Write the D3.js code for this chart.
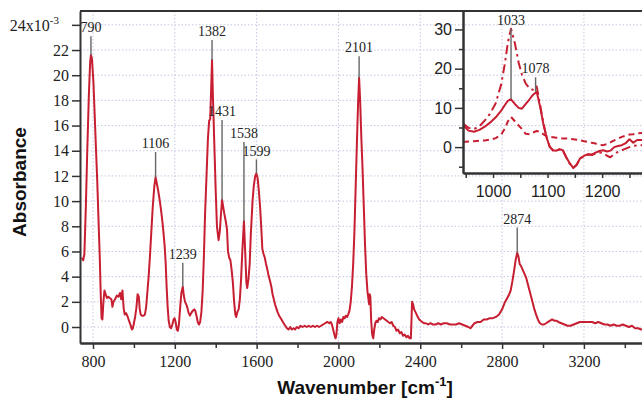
<!DOCTYPE html>
<html>
<head>
<meta charset="utf-8">
<script src="https://cdn.jsdelivr.net/npm/d3@7"></script>
<style>
  body { margin: 0; background: #fff; }
  svg { display: block; }
</style>
</head>
<body>
<svg width="642" height="398"></svg>
<script>
const svg = d3.select("svg");
const width = +svg.attr("width");
const height = +svg.attr("height");

const red = "#c81e32";
const axisColor = "#333";
const gridColor = "#c6c6e2";

// Main spectrum (absorbance in units of 10^-3)
const wavenumbers = [
  746, 752, 758, 765, 772, 780, 786, 790, 795, 802, 808, 815, 821, 827, 833, 838, 842, 846, 851, 856,
  862, 868, 875, 882, 890, 895, 900, 908, 916, 924, 932, 938, 944, 950, 955, 962, 970, 978, 985, 990,
  995, 1000, 1006, 1012, 1018, 1024, 1028, 1033, 1040, 1047, 1054, 1060, 1066, 1072, 1078, 1085, 1092, 1100, 1106, 1112,
  1118, 1125, 1131, 1137, 1143, 1150, 1155, 1160, 1165, 1170, 1176, 1182, 1188, 1194, 1199, 1204, 1210, 1215, 1220, 1226,
  1232, 1239, 1244, 1250, 1256, 1262, 1268, 1274, 1280, 1288, 1295, 1300, 1306, 1312, 1318, 1324, 1330, 1336, 1342, 1348,
  1355, 1362, 1368, 1373, 1377, 1382, 1386, 1390, 1395, 1400, 1406, 1414, 1420, 1425, 1431, 1436, 1442, 1448, 1455, 1460,
  1466, 1472, 1478, 1484, 1490, 1496, 1500, 1506, 1512, 1518, 1524, 1530, 1538, 1544, 1550, 1554, 1560, 1566, 1572, 1580,
  1586, 1593, 1599, 1605, 1611, 1617, 1623, 1628, 1634, 1640, 1646, 1652, 1658, 1665, 1672, 1678, 1684, 1690, 1696, 1702,
  1710, 1718, 1725, 1732, 1740, 1748, 1756, 1764, 1772, 1780, 1788, 1796, 1805, 1815, 1825, 1835, 1845, 1855, 1865, 1875,
  1885, 1895, 1905, 1915, 1925, 1935, 1945, 1955, 1962, 1968, 1974, 1980, 1986, 1990, 1995, 2000, 2006, 2012, 2018, 2024,
  2030, 2036, 2042, 2048, 2054, 2060, 2066, 2072, 2078, 2084, 2090, 2096, 2101, 2106, 2112, 2118, 2124, 2130, 2136, 2142,
  2146, 2150, 2153, 2156, 2160, 2165, 2170, 2175, 2180, 2186, 2192, 2198, 2205, 2212, 2220, 2228, 2236, 2244, 2252, 2260,
  2268, 2276, 2284, 2292, 2300, 2308, 2316, 2324, 2332, 2340, 2348, 2354, 2357, 2360, 2365, 2370, 2376, 2382, 2388, 2395,
  2402, 2410, 2418, 2428, 2438, 2450, 2462, 2475, 2488, 2500, 2515, 2530, 2545, 2560, 2575, 2590, 2605, 2620, 2635, 2645,
  2655, 2665, 2680, 2695, 2710, 2725, 2740, 2755, 2770, 2785, 2800, 2812, 2822, 2832, 2842, 2850, 2858, 2866, 2874, 2880,
  2886, 2894, 2902, 2910, 2918, 2926, 2934, 2942, 2950, 2958, 2966, 2975, 2985, 2995, 3005, 3015, 3025, 3035, 3045, 3055,
  3065, 3075, 3090, 3105, 3120, 3135, 3150, 3165, 3180, 3195, 3210, 3225, 3240, 3255, 3270, 3285, 3300, 3315, 3330, 3345,
  3360, 3375, 3390, 3405, 3420, 3435, 3450, 3465, 3480, 3495
];
const absorbance = [
  5.5, 5.3, 5.8, 9.5, 14.0, 18.5, 21.0, 21.6, 21.3, 19.5, 17.0, 14.0, 11.5, 8.5, 5.6, 2.5, 0.7, 0.6, 2.0, 2.9,
  2.6, 2.3, 2.4, 2.3, 2.2, 1.6, 2.0, 2.2, 2.5, 2.4, 2.7, 2.2, 2.9, 1.5, 1.0, 1.1, 0.8, 0.4, 0.1, -0.2,
  -0.1, 0.3, 0.8, 1.5, 2.6, 2.4, 1.5, 1.0, 0.9, 0.9, 1.0, 1.6, 2.8, 4.0, 5.5, 7.5, 9.5, 11.2, 11.9, 11.4,
  10.9, 10.2, 9.5, 8.7, 7.8, 6.5, 5.2, 3.2, 1.6, 0.5, 0.0, -0.1, 0.2, 0.6, 0.7, 0.4, -0.2, -0.3, 0.2, 1.5,
  2.7, 3.2, 2.5, 2.0, 1.8, 1.5, 1.1, 0.9, 1.1, 1.3, 1.4, 1.3, 0.9, 0.4, 0.2, 0.4, 1.2, 2.8, 5.5, 9.0,
  12.0, 15.0, 16.4, 16.5, 18.5, 21.2, 18.5, 16.3, 13.5, 10.8, 8.0, 6.9, 7.6, 8.8, 10.1, 9.6, 9.0, 8.5, 7.8, 6.0,
  5.5, 5.3, 4.5, 3.5, 2.0, 1.0, 0.8, 1.2, 1.4, 2.2, 3.8, 6.0, 8.4, 6.0, 3.5, 3.1, 3.8, 5.0, 7.5, 10.0,
  11.2, 12.0, 12.2, 11.8, 10.8, 9.5, 7.8, 6.2, 5.8, 5.5, 5.0, 4.6, 4.1, 3.7, 3.2, 2.6, 2.2, 1.8, 1.5, 1.2,
  0.9, 0.7, 0.5, 0.3, 0.1, -0.1, -0.2, 0.0, -0.2, -0.1, -0.2, 0.0, -0.1, 0.1, 0.0, 0.1, 0.0, 0.1, 0.0, 0.1,
  0.0, 0.1, 0.0, 0.1, 0.2, 0.3, 0.4, 0.3, 0.4, 0.2, -0.2, -0.6, -0.9, -0.6, 0.4, 0.7, 0.3, 0.6, 0.4, 0.8,
  0.7, 0.9, 0.8, 1.0, 1.3, 2.0, 3.2, 5.0, 7.5, 11.0, 14.5, 17.8, 19.8, 18.0, 15.0, 12.5, 9.5, 6.5, 4.2, 2.8,
  2.3, 1.8, 2.6, 2.4, 0.5, -0.6, -0.9, -0.2, 0.3, 0.5, 0.4, 0.7, 0.6, 0.8, 0.7, 0.6, 0.5, 0.4, 0.3, 0.4,
  0.1, 0.0, -0.3, -0.2, -0.5, -0.4, -0.7, -0.6, -0.8, -0.7, -0.9, -0.9, 0.5, 2.0, 1.8, 1.4, 1.2, 1.0, 0.8, 0.6,
  0.5, 0.4, 0.3, 0.3, 0.2, 0.3, 0.2, 0.2, 0.3, 0.2, 0.3, 0.3, 0.2, 0.2, 0.2, 0.3, 0.2, 0.1, 0.0, -0.1,
  0.1, 0.3, 0.4, 0.4, 0.6, 0.6, 0.7, 0.7, 0.8, 1.0, 1.4, 1.9, 2.2, 2.5, 2.9, 3.6, 4.4, 5.3, 5.9, 5.6,
  5.0, 4.8, 4.5, 4.2, 3.9, 3.4, 2.9, 2.4, 1.9, 1.4, 1.0, 0.6, 0.3, 0.2, 0.2, 0.3, 0.4, 0.5, 0.6, 0.5,
  0.5, 0.4, 0.3, 0.2, 0.1, 0.1, 0.2, 0.3, 0.4, 0.4, 0.4, 0.4, 0.4, 0.3, 0.4, 0.3, 0.2, 0.2, 0.1, 0.2,
  0.1, 0.1, 0.2, 0.1, 0.0, 0.1, -0.1, -0.1, -0.2, -0.2
];

// Peak annotations: position, peak value, top of the leader line
const peakPositions = [790, 1106, 1239, 1382, 1431, 1538, 1599, 2101, 2874];
const peakValues = [21.6, 11.9, 3.2, 21.2, 10.1, 8.4, 12.2, 19.8, 5.9];
const leaderTops = [23.1, 13.9, 5.1, 22.8, 16.45, 14.7, 13.3, 21.5, 7.9];

const xTicks = [800, 1200, 1600, 2000, 2400, 2800, 3200];
const xMinorTicks = [1000, 1400, 1800, 2200, 2600, 3000, 3400];
const yTicks = [0, 2, 4, 6, 8, 10, 12, 14, 16, 18, 20, 22, 24];

// Inset: three spectra around 1000-1270 cm-1
const insetWavenumbers = [
  945, 955, 965, 975, 985, 995, 1005, 1015, 1022, 1027, 1033, 1040, 1047, 1053, 1060, 1067, 1073, 1080, 1086, 1092,
  1098, 1104, 1110, 1116, 1122, 1128, 1134, 1140, 1147, 1153, 1160, 1167, 1174, 1181, 1188, 1195, 1202, 1209, 1215, 1222,
  1229, 1236, 1243, 1250, 1257, 1264, 1273
];
const insetSolid = [
  5.6, 4.2, 3.9, 4.4, 5.2, 6.3, 7.6, 9.3, 10.8, 11.8, 12.2, 11.0, 10.0, 9.8, 11.0, 12.2, 13.3, 14.1, 10.5, 6.1,
  2.5, 0.0, -0.8, -0.9, -0.5, -0.8, -2.5, -4.0, -5.3, -4.5, -2.8, -2.2, -1.8, -1.9, -1.4, -1.0, -0.8, -1.1, -0.9, 0.0,
  0.3, 0.5, 1.0, 2.0, 1.1, 1.8, 1.8
];
const insetDashDot = [
  6.0, 4.9, 4.6, 5.3, 6.8, 8.6, 11.2, 16.0, 21.5, 26.5, 30.2, 26.5, 21.5, 18.5, 16.2, 15.0, 14.6, 15.5, 11.0, 6.3,
  2.6, 0.1, -0.9, -0.9, -0.6, -0.9, -2.6, -4.1, -5.3, -4.6, -2.9, -2.3, -1.9, -2.0, -1.6, -1.4, -1.5, -2.2, -2.6, -1.8,
  -1.2, -0.8, -0.4, 0.0, 0.3, 0.4, 0.5
];
const insetDashed = [
  1.3, 1.4, 1.5, 1.6, 1.7, 1.9, 2.3, 3.2, 4.8, 6.5, 7.7, 6.6, 5.5, 4.6, 3.4, 3.3, 3.7, 4.1, 3.9, 3.3,
  2.8, 2.6, 2.5, 2.4, 2.3, 2.2, 2.2, 2.1, 2.0, 1.9, 1.7, 1.5, 1.3, 1.1, 0.9, 0.6, 0.5, 0.8, 1.2, 1.7,
  2.2, 2.6, 2.9, 3.2, 3.3, 3.5, 3.6
];
const insetPeakPositions = [1033, 1078];
const insetLeaderTops = [30.2, 17.8];
const insetLeaderBottoms = [12.2, 14.1];
const insetXTicks = [1000, 1100, 1200];
const insetXMinorTicks = [950, 1050, 1150, 1250];
const insetYTicks = [0, 10, 20, 30];
const insetYMinorTicks = [-5, 5, 15, 25];

const plain = d3.format("d");

// Main plot area
const mLeft = 80, mRight = width, mTop = 11, mBottom = 343;

const x = d3.scaleLinear().domain([736.5, 3484]).range([mLeft, mRight]);
const y = d3.scaleLinear().domain([-1.27, 25.1]).range([mBottom, mTop]);

const defs = svg.append("defs");
defs.append("clipPath").attr("id", "mainClip")
  .append("rect").attr("x", mLeft).attr("y", mTop).attr("width", mRight - mLeft).attr("height", mBottom - mTop);

// Dotted grid
const grid = svg.append("g");
grid.selectAll(".vgrid").data(xTicks).enter().append("line")
  .attr("x1", d => x(d)).attr("x2", d => x(d))
  .attr("y1", mTop).attr("y2", mBottom)
  .attr("stroke", gridColor).attr("stroke-dasharray", "1.5,2");
grid.selectAll(".hgrid").data(yTicks).enter().append("line")
  .attr("x1", mLeft).attr("x2", mRight)
  .attr("y1", d => y(d)).attr("y2", d => y(d))
  .attr("stroke", gridColor).attr("stroke-dasharray", "1.5,2");

// Spectrum
const mainLine = d3.line()
  .x((d, i) => x(wavenumbers[i]))
  .y(d => y(d));

svg.append("path")
  .datum(absorbance)
  .attr("clip-path", "url(#mainClip)")
  .attr("fill", "none")
  .attr("stroke", red)
  .attr("stroke-width", 2)
  .attr("stroke-linejoin", "round")
  .attr("d", mainLine);

// Peak leader lines and labels
const peaks = svg.append("g");
peakPositions.forEach((p, i) => {
  peaks.append("line")
    .attr("x1", x(p)).attr("x2", x(p))
    .attr("y1", y(leaderTops[i])).attr("y2", y(peakValues[i]))
    .attr("stroke", "#666").attr("stroke-width", 1.4);
  peaks.append("text")
    .attr("x", x(p)).attr("y", y(leaderTops[i]) - 4)
    .attr("text-anchor", "middle")
    .attr("font-family", "Liberation Serif, serif")
    .attr("font-size", 14)
    .attr("fill", "#222")
    .text(p);
});

// Axes
function styleAxis(g) {
  g.select(".domain").attr("stroke", axisColor).attr("stroke-width", 2);
  g.selectAll(".tick line").attr("stroke", axisColor).attr("stroke-width", 1.5);
  g.selectAll(".tick text").attr("fill", "#222");
}

const xAxis = svg.append("g")
  .attr("transform", `translate(0,${mBottom})`)
  .call(d3.axisBottom(x).tickValues(xTicks).tickFormat(plain).tickSize(6).tickSizeOuter(0).tickPadding(7))
  .attr("font-family", "Liberation Serif, serif")
  .attr("font-size", 16);
styleAxis(xAxis);

const xMinor = svg.append("g")
  .attr("transform", `translate(0,${mBottom})`)
  .call(d3.axisBottom(x).tickValues(xMinorTicks).tickSize(5).tickSizeOuter(0).tickFormat(""));
styleAxis(xMinor);

const yAxis = svg.append("g")
  .attr("transform", `translate(${mLeft},0)`)
  .call(d3.axisLeft(y).tickValues(yTicks).tickSize(8).tickSizeOuter(0).tickPadding(3)
    .tickFormat(d => d === 24 ? "" : d))
  .attr("font-family", "Liberation Serif, serif")
  .attr("font-size", 16);
styleAxis(yAxis);

// top label with the exponent
const expLabel = svg.append("text")
  .attr("x", 59).attr("y", y(24) + 6)
  .attr("text-anchor", "end")
  .attr("font-family", "Liberation Serif, serif")
  .attr("font-size", 16)
  .attr("fill", "#222");
expLabel.append("tspan").text("24x10");
expLabel.append("tspan").attr("dy", -7).attr("font-size", 11).text("-3");

// top frame line
svg.append("line")
  .attr("x1", mLeft).attr("x2", mRight).attr("y1", mTop).attr("y2", mTop)
  .attr("stroke", axisColor).attr("stroke-width", 2);

// Axis titles
svg.append("text")
  .attr("transform", `translate(26,${(mTop + mBottom) / 2 + 5}) rotate(-90)`)
  .attr("text-anchor", "middle")
  .attr("font-family", "Liberation Sans, Arial, sans-serif")
  .attr("font-weight", "bold")
  .attr("font-size", 19)
  .attr("fill", "#111")
  .text("Absorbance");

const xTitle = svg.append("text")
  .attr("x", 365).attr("y", 394)
  .attr("text-anchor", "middle")
  .attr("font-family", "Liberation Sans, Arial, sans-serif")
  .attr("font-weight", "bold")
  .attr("font-size", 19)
  .attr("fill", "#111");
xTitle.append("tspan").text("Wavenumber [cm");
xTitle.append("tspan").attr("dy", -8).attr("font-size", 13).text("-1");
xTitle.append("tspan").attr("dy", 8).text("]");

// Inset
const iLeft = 463, iRight = width, iTop = 11, iBottom = 173;
const xi = d3.scaleLinear().domain([945, 1273]).range([iLeft, iRight]);
const yi = d3.scaleLinear().domain([-6.6, 34.7]).range([iBottom, iTop]);

defs.append("clipPath").attr("id", "insetClip")
  .append("rect").attr("x", iLeft).attr("y", iTop).attr("width", iRight - iLeft).attr("height", iBottom - iTop);

const insetLine = d3.line()
  .x((d, i) => xi(insetWavenumbers[i]))
  .y(d => yi(d));

const insetSeries = [
  { values: insetDashed, dash: "6,4" },
  { values: insetDashDot, dash: "9,4,2.5,4" },
  { values: insetSolid, dash: null }
];
insetSeries.forEach(s => {
  svg.append("path")
    .datum(s.values)
    .attr("clip-path", "url(#insetClip)")
    .attr("fill", "none")
    .attr("stroke", red)
    .attr("stroke-width", 2)
    .attr("stroke-linejoin", "round")
    .attr("stroke-dasharray", s.dash)
    .attr("d", insetLine);
});

insetPeakPositions.forEach((p, i) => {
  svg.append("line")
    .attr("x1", xi(p)).attr("x2", xi(p))
    .attr("y1", yi(insetLeaderTops[i])).attr("y2", yi(insetLeaderBottoms[i]))
    .attr("stroke", "#666").attr("stroke-width", 1.4);
  svg.append("text")
    .attr("x", xi(p)).attr("y", yi(insetLeaderTops[i]) - 4)
    .attr("text-anchor", "middle")
    .attr("font-family", "Liberation Serif, serif")
    .attr("font-size", 14)
    .attr("fill", "#222")
    .text(p);
});

const iyAxis = svg.append("g")
  .attr("transform", `translate(${iLeft},0)`)
  .call(d3.axisLeft(yi).tickValues(insetYTicks).tickFormat(plain).tickSize(8).tickSizeOuter(0).tickPadding(3))
  .attr("font-family", "Liberation Sans, Arial, sans-serif")
  .attr("font-size", 16);
styleAxis(iyAxis);

const iyMinor = svg.append("g")
  .attr("transform", `translate(${iLeft},0)`)
  .call(d3.axisLeft(yi).tickValues(insetYMinorTicks).tickSize(4).tickSizeOuter(0).tickFormat(""));
styleAxis(iyMinor);

const ixAxis = svg.append("g")
  .attr("transform", `translate(0,${iBottom})`)
  .call(d3.axisBottom(xi).tickValues(insetXTicks).tickFormat(plain).tickSize(5).tickSizeOuter(0).tickPadding(8))
  .attr("font-family", "Liberation Sans, Arial, sans-serif")
  .attr("font-size", 16);
styleAxis(ixAxis);

const ixMinor = svg.append("g")
  .attr("transform", `translate(0,${iBottom})`)
  .call(d3.axisBottom(xi).tickValues(insetXMinorTicks).tickSize(5).tickSizeOuter(0).tickFormat(""));
styleAxis(ixMinor);
</script>
</body>
</html>
